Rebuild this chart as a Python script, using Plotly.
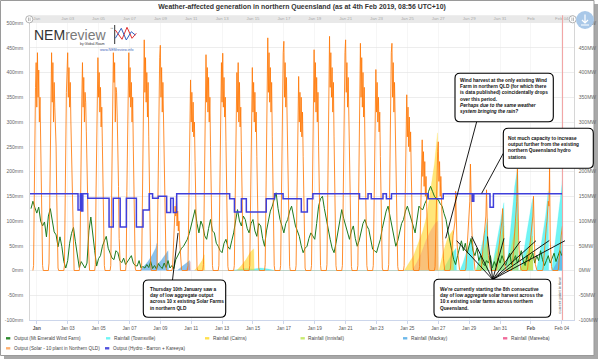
import pandas as pd
import plotly.graph_objects as go

BASE = pd.Timestamp("2019-01-01")

TITLE = "Weather-affected generation in northern Queensland (as at 4th Feb 2019, 08:56 UTC+10)"

# ---------------- axes ----------------
X_RANGE_DAYS = [-0.44, 34.79]
X_TICK_DAYS = list(range(0, 35, 2))
X_TICK_TEXT = ["<b>Jan</b>", "Jan 03", "Jan 05", "Jan 07", "Jan 09", "Jan 11", "Jan 13",
               "Jan 15", "Jan 17", "Jan 19", "Jan 21", "Jan 23", "Jan 25", "Jan 27",
               "Jan 29", "Jan 31", "<b>Feb</b>", "Feb 04"]
TOP_TICK_TEXT = ["Jan", "Jan 03", "Jan 05", "Jan 07", "Jan 09", "Jan 11", "Jan 13",
                 "Jan 15", "Jan 17", "Jan 19", "Jan 21", "Jan 23", "Jan 25", "Jan 27",
                 "Jan 29", "Jan 31", "Feb", "Feb 04"]
Y_TICKS = [-100, -50, 0, 50, 100, 150, 200, 250, 300, 350, 400, 450, 500]
Y_RANGE = [-100, 500]
RIGHT_HIDDEN_TICKS = [250]   # covered by the hydro note box in the original
NOW_DAY = 34.05

# ---------------- solar (MW), hourly samples around each day ----------------
SOLAR_HOURS = [-6, -5, -4, -3, -2, -1, 0, 1, 2, 3, 4, 5, 6, 7, 8, 9, 10]
SOLAR_MW = [
    [0, 10, 140, 300, 370, 420, 330, 440, 350, 405, 300, 350, 260, 170, 60, 10, 0],   # Jan 1
    [0, 15, 160, 310, 390, 440, 340, 420, 300, 380, 330, 290, 250, 150, 50, 5, 0],
    [0, 10, 150, 300, 360, 400, 440, 350, 410, 330, 380, 300, 240, 160, 60, 10, 0],
    [0, 10, 130, 290, 350, 420, 330, 390, 300, 360, 340, 280, 230, 150, 55, 5, 0],
    [0, 12, 150, 300, 380, 430, 350, 400, 320, 370, 290, 330, 250, 160, 60, 10, 0],
    [0, 10, 140, 280, 360, 440, 380, 420, 300, 370, 360, 310, 260, 170, 65, 10, 0],
    [0, 15, 160, 310, 380, 440, 350, 410, 330, 380, 300, 350, 250, 160, 55, 5, 0],
    [0, 10, 150, 300, 390, 466, 360, 430, 340, 400, 310, 380, 270, 170, 60, 10, 0],
    [0, 10, 140, 290, 370, 430, 455, 350, 410, 320, 380, 300, 240, 150, 50, 5, 0],
    [0, 5, 40, 70, 100, 130, 110, 150, 90, 120, 80, 100, 60, 30, 10, 2, 0],            # Jan 10
    [0, 10, 120, 260, 330, 385, 300, 360, 280, 340, 270, 300, 220, 140, 50, 5, 0],
    [0, 12, 150, 300, 370, 436, 340, 410, 320, 390, 300, 350, 250, 160, 60, 10, 0],
    [0, 10, 140, 290, 380, 420, 340, 439, 330, 390, 310, 350, 260, 160, 55, 8, 0],
    [0, 10, 130, 280, 350, 400, 320, 420, 300, 380, 290, 330, 240, 150, 50, 5, 0],
    [0, 10, 130, 270, 340, 410, 320, 380, 300, 360, 280, 320, 230, 150, 55, 5, 0],
    [0, 12, 160, 310, 400, 470, 360, 440, 340, 410, 320, 380, 270, 170, 60, 10, 0],
    [0, 10, 150, 300, 380, 440, 463, 350, 420, 330, 390, 310, 260, 160, 55, 8, 0],
    [0, 10, 120, 270, 330, 392, 300, 360, 280, 350, 270, 320, 230, 140, 50, 5, 0],
    [0, 10, 150, 300, 370, 446, 340, 420, 320, 390, 300, 360, 250, 160, 60, 10, 0],
    [0, 12, 160, 320, 400, 473, 370, 440, 350, 410, 320, 380, 270, 170, 60, 10, 0],    # Jan 20
    [0, 10, 150, 300, 390, 440, 466, 360, 420, 330, 390, 300, 260, 160, 55, 8, 0],
    [0, 10, 150, 310, 380, 459, 350, 430, 330, 400, 310, 370, 260, 165, 60, 10, 0],
    [0, 10, 130, 280, 350, 406, 320, 380, 300, 350, 280, 320, 230, 150, 50, 5, 0],
    [0, 12, 150, 300, 380, 440, 459, 350, 420, 320, 380, 300, 250, 160, 55, 8, 0],
    [0, 10, 110, 240, 300, 355, 270, 330, 250, 310, 240, 280, 200, 130, 45, 5, 0],
    [0, 8, 80, 160, 220, 264, 190, 240, 170, 220, 150, 190, 130, 80, 30, 5, 0],
    [0, 8, 70, 150, 200, 240, 260, 180, 220, 150, 190, 120, 90, 60, 25, 5, 0],
    [0, 5, 25, 45, 60, 70, 80, 90, 100, 160, 80, 60, 40, 20, 8, 2, 0],
    [0, 5, 30, 50, 70, 90, 110, 140, 215, 120, 90, 60, 40, 20, 8, 2, 0],
    [0, 5, 25, 40, 55, 70, 80, 100, 110, 163, 80, 50, 30, 15, 5, 2, 0],               # Jan 30
    [0, 5, 20, 35, 50, 60, 70, 80, 90, 100, 125, 60, 30, 12, 5, 2, 0],
    [0, 5, 25, 45, 60, 80, 100, 120, 140, 205, 100, 60, 35, 15, 5, 2, 0],             # Feb 1
    [0, 5, 20, 35, 50, 60, 70, 90, 100, 110, 150, 60, 30, 12, 5, 2, 0],
    [0, 5, 25, 40, 55, 70, 90, 100, 120, 140, 130, 208, 60, 20, 8, 2, 0],
    [0, 5, 25, 45, 60, 70, 80, 90],                                                    # Feb 4 (partial)
]

# ---------------- wind (MW), 3-hourly from Dec 31 15:00 ----------------
WIND_START_DAY = -0.375
WIND_STEP_HOURS = 3
WIND_MW = [
    125, 140, 127,
    116, 128, 100, 90, 98, 68, 110, 125,
    98, 78, 72, 48, 68, 48, 18, 5,
    20, 55, 75, 87, 58, 30, 6, 18,
    10, 5, 15, 80, 108, 70, 40, 9,
    24, 30, 49, 60, 69, 45, 36, 25,
    22, 40, 36, 20, 16, 25, 12, 18,
    22, 30, 15, 10, 9, 20, 5, 8,
    5, 12, 6, 18, 4, 10, 3, 14,
    8, 4, 15, 6, 20, 5, 10, 4,
    22, 30, 36, 45, 49, 55, 63, 75,
    90, 110, 123, 95, 76, 100, 90, 70,
    63, 85, 103, 80, 76, 55, 49, 40,
    36, 55, 63, 48, 43, 60, 76, 100,
    123, 100, 90, 110, 103, 85, 76, 95,
    103, 80, 69, 95, 90, 65, 49, 80,
    103, 120, 130, 145, 157, 125, 103, 90,
    76, 95, 103, 120, 130, 110, 90, 80,
    69, 50, 36, 45, 49, 65, 76, 70,
    63, 95, 130, 145, 150, 125, 103, 80,
    63, 45, 36, 55, 76, 100, 123, 105,
    90, 75, 63, 80, 90, 65, 49, 60,
    76, 95, 103, 90, 83, 60, 43, 40,
    36, 50, 63, 85, 103, 120, 130, 110,
    90, 65, 49, 60, 76, 95, 103, 120,
    130, 115, 103, 90, 76, 105, 130, 125,
    123, 135, 143, 160, 170, 160, 150, 145,
    143, 135, 130, 115, 103, 80, 63, 40,
    22, 12, 30, 45, 60, 40, 55, 35,
    50, 65, 40, 30, 45, 20, 30, 15,
    10, 20, 15, 30, 5, 18, 8, 25,
    15, 30, 20, 10, 25, 35, 12, 20,
    30, 15, 25, 40, 20, 10, 30, 18,
    25, 35, 15, 30, 20, 40, 22, 10,
    20, 30, 15, 25, 35, 18, 28, 40,
    30,
]

# ---------------- hydro (MW), step changes ----------------
HYDRO_DAYS = [-0.44, 2.67, 2.82, 2.88, 2.98, 3.30, 4.68, 4.95, 5.40, 5.80, 6.45, 6.88, 7.28,
              7.50, 7.87, 8.41, 8.67, 8.84, 9.06, 12.49, 12.80, 13.25, 13.57, 14.86, 15.40,
              15.95, 17.13, 17.52, 17.88, 20.90, 21.45, 21.66, 22.42, 22.64, 22.97, 25.35,
              26.32, 28.20, 28.30, 29.35, 29.57, 34.05]
HYDRO_MW = [155, 122, 155, 120, 155, 146, 88, 146, 88, 146, 88, 122, 155,
            146, 150, 117, 146, 117, 155, 145, 118, 145, 118, 145, 155,
            145, 118, 145, 155, 145, 155, 145, 155, 145, 155, 145,
            155, 140, 155, 128, 155, 155]

# ---------------- rainfall (mm) ----------------
TOWNSVILLE_DAYS = [12.6, 13.0, 13.5, 14.0, 14.5, 15.0, 15.4,
                   26.30, 26.5, 26.7, 26.9, 27.15, 27.18,
                   27.40, 27.6, 27.8, 28.0, 28.25, 28.28,
                   28.45, 28.6, 28.8, 29.0, 29.2, 29.23,
                   29.45, 29.6, 29.8, 30.0, 30.25, 30.28,
                   30.40, 30.55, 30.75, 30.95, 31.15, 31.18,
                   31.30, 31.5, 31.7, 31.9, 32.1, 32.13,
                   32.35, 32.55, 32.75, 32.95, 33.12, 33.15,
                   33.35, 33.5, 33.7, 33.9, 34.05]
TOWNSVILLE_MM = [0, 2, 4, 3, 5, 3, 0,
                 0, 12, 25, 35, 45, 0,
                 0, 15, 35, 50, 69, 0,
                 0, 20, 50, 80, 105, 0,
                 0, 25, 60, 100, 137, 0,
                 0, 40, 100, 170, 210, 0,
                 0, 30, 70, 110, 145, 0,
                 0, 30, 70, 110, 160, 0,
                 0, 40, 90, 140, 184]

CAIRNS_DAYS = [10.2, 10.45, 10.7, 10.85, 10.88,
               12.95, 13.25, 13.55, 13.85, 14.05, 14.08,
               23.8, 24.1, 24.4, 24.7, 25.0, 25.25, 25.5, 25.75, 25.95, 26.0,
               26.05, 26.3, 26.6, 26.95, 27.0,
               31.3, 31.6, 31.9, 32.1, 32.13]
CAIRNS_MM = [0, 8, 20, 32, 0,
             0, 10, 22, 38, 44, 0,
             0, 15, 30, 55, 80, 110, 160, 215, 278, 0,
             0, 35, 65, 82, 0,
             0, 20, 45, 55, 0]

INNISFAIL_DAYS = [28.45, 28.7, 29.0, 29.2, 29.23,
                  29.45, 29.7, 30.0, 30.25, 30.28,
                  30.40, 30.65, 30.9, 31.15, 31.18,
                  31.30, 31.6, 31.9, 32.1, 32.13]
INNISFAIL_MM = [0, 20, 45, 65, 0,
                0, 30, 60, 90, 0,
                0, 35, 75, 115, 0,
                0, 25, 50, 70, 0]

MACKAY_DAYS = [6.70, 6.95, 7.2, 7.45, 7.7, 7.78, 7.8, 8.05, 8.3, 8.5, 8.53,
               9.1, 9.4, 9.7, 9.9, 9.93,
               33.40, 33.6, 33.85, 34.05]
MACKAY_MM = [0, 8, 18, 30, 45, 55, 12, 20, 32, 40, 0,
             0, 8, 15, 20, 0,
             0, 12, 28, 45]

MAREEBA_DAYS = [9.6, 9.8, 9.95, 9.98,
                24.3, 24.6, 24.9, 25.2, 25.5, 25.8, 25.97, 26.0]
MAREEBA_MM = [0, 8, 18, 0,
              0, 15, 35, 60, 80, 95, 100, 0]

# ---------------- styling ----------------
C_WIND = "#1E7A1E"
C_SOLAR = "#FF7A0A"
C_HYDRO = "#3F3FDB"
RAIN_STYLE = {
    "Rainfall (Townsville)": ("rgba(64,240,240,0.75)", "#6FF5F5"),
    "Rainfall (Cairns)": ("rgba(255,215,40,0.62)", "#FFE04D"),
    "Rainfall (Innisfail)": ("rgba(190,230,80,0.6)", "#C8EA70"),
    "Rainfall (Mackay)": ("rgba(90,170,230,0.7)", "#6CB8EA"),
    "Rainfall (Mareeba)": ("rgba(235,110,120,0.3)", "#F06A9A"),
}
FONT = "Liberation Sans, Arial, sans-serif"

PL, PR, PT, PB = 30, 574, 23, 320  # plot area in pixels


def fx(px):
    return (px - PL) / (PR - PL)


def fy(py):
    return (PB - py) / (PB - PT)


def t(d):
    return BASE + pd.Timedelta(days=float(d))


# ---------------- build series ----------------
solar_x, solar_y = [], []
for i, row in enumerate(SOLAR_MW):
    for h, v in zip(SOLAR_HOURS, row):
        solar_x.append(t(i + h / 24.0))
        solar_y.append(v)

wind_x = [t(WIND_START_DAY + k * WIND_STEP_HOURS / 24.0) for k in range(len(WIND_MW))]

fig = go.Figure()

rain_sets = [
    ("Rainfall (Townsville)", TOWNSVILLE_DAYS, TOWNSVILLE_MM),
    ("Rainfall (Cairns)", CAIRNS_DAYS, CAIRNS_MM),
    ("Rainfall (Innisfail)", INNISFAIL_DAYS, INNISFAIL_MM),
    ("Rainfall (Mackay)", MACKAY_DAYS, MACKAY_MM),
    ("Rainfall (Mareeba)", MAREEBA_DAYS, MAREEBA_MM),
]
for name, days, mm in rain_sets:
    fillc, _ = RAIN_STYLE[name]
    fig.add_trace(go.Scatter(x=[t(d) for d in days], y=mm, name=name, mode="lines",
                             line=dict(width=0.3, color=fillc), fill="tozeroy",
                             fillcolor=fillc, yaxis="y", showlegend=False))

fig.add_trace(go.Scatter(x=wind_x, y=WIND_MW, name="Output (Mt Emerald Wind Farm)",
                         mode="lines", line=dict(color=C_WIND, width=1), yaxis="y2",
                         showlegend=False))
fig.add_trace(go.Scatter(x=solar_x, y=solar_y, name="Output (Solar - 10 plant in Northern QLD)",
                         mode="lines", line=dict(color=C_SOLAR, width=0.85), yaxis="y2",
                         showlegend=False))
fig.add_trace(go.Scatter(x=[t(d) for d in HYDRO_DAYS], y=HYDRO_MW,
                         name="Output (Hydro - Barron + Kareeya)", mode="lines",
                         line=dict(color=C_HYDRO, width=1.5, shape="hv"), yaxis="y2",
                         showlegend=False))
# carrier for the top (navigator-like) axis
fig.add_trace(go.Scatter(x=[t(0)], y=[None], xaxis="x2", yaxis="y", showlegend=False,
                         hoverinfo="skip"))

# ---------------- shapes ----------------
shapes = []
# frame with shadow
shapes.append(dict(type="rect", xref="paper", yref="paper", x0=fx(4), x1=fx(598), y0=fy(359),
                   y1=fy(4), fillcolor="#A8A8A8", line=dict(width=0), layer="below"))
shapes.append(dict(type="rect", xref="paper", yref="paper", x0=fx(0.5), x1=fx(594), y0=fy(355.5),
                   y1=fy(0.5), fillcolor="white", line=dict(color="#9A9A9A", width=1),
                   layer="below"))
# top band
shapes.append(dict(type="rect", xref="paper", yref="paper", x0=0, x1=1, y0=1, y1=fy(15.3),
                   fillcolor="#E9E9E9", line=dict(width=0), layer="below"))

# current time line
shapes.append(dict(type="line", xref="x", yref="paper", x0=t(NOW_DAY), x1=t(NOW_DAY),
                   y0=0, y1=fy(15.3), line=dict(color="#F2A0A0", width=1), layer="above"))

# arrows of annotations
ARROWS = [
    ((172.5, 280), (178, 233)),
    ((476.7, 121.7), (445.7, 238.3)),
    ((503.3, 153.3), (481.7, 193.3)),
]
FAN_FROM = (492.7, 279.5)
FAN_TO = [(456.7, 240.7), (471.7, 236.5), (487.5, 236.5), (504, 238.3),
          (520.5, 241), (536, 240.7), (549.3, 240.5), (565, 240.7)]
for a, b in ARROWS:
    shapes.append(dict(type="line", xref="paper", yref="paper", x0=fx(a[0]), y0=fy(a[1]),
                       x1=fx(b[0]), y1=fy(b[1]), line=dict(color="black", width=0.9),
                       layer="above"))
for b in FAN_TO:
    shapes.append(dict(type="line", xref="paper", yref="paper", x0=fx(FAN_FROM[0]),
                       y0=fy(FAN_FROM[1]), x1=fx(b[0]), y1=fy(b[1]),
                       line=dict(color="black", width=0.9), layer="above"))


def rrect(x0, y0, x1, y1, r=5):
    rx, ry = r / (PR - PL), r / (PB - PT)
    X0, X1, YT, YB = fx(x0), fx(x1), fy(y0), fy(y1)
    return (f"M{X0+rx},{YT} L{X1-rx},{YT} Q{X1},{YT} {X1},{YT-ry} L{X1},{YB+ry} "
            f"Q{X1},{YB} {X1-rx},{YB} L{X0+rx},{YB} Q{X0},{YB} {X0},{YB+ry} "
            f"L{X0},{YT-ry} Q{X0},{YT} {X0+rx},{YT} Z")


BOXES = [
    ((143.3, 280, 225.7, 317.3), (148.3, 299.4),
     "<b>Thursday 10th January saw a<br>day of low aggregate output<br>"
     "across 10 x existing Solar Farms<br>in northern QLD</b>"),
    ((455, 73.3, 553.3, 121.7), (457.6, 95.6),
     "<b>Wind harvest at the only existing Wind<br>Farm in northern QLD (for which there<br>"
     "is data published) coincidentally drops<br>over this period.<br>"
     "<i>Perhaps due to the same weather</i><br><i>system bringing the rain?</i></b>"),
    ((503.3, 128.3, 593.3, 168.3), (506.3, 147.5),
     "<b>Not much capacity to increase<br>output further from the existing<br>"
     "northern Queensland hydro<br>stations</b>"),
    ((434, 279.3, 550.7, 317.3), (438.3, 298.8),
     "<b>We're currently starting the 8th consecutive<br>day of low <i>aggregate</i> solar "
     "harvest across the<br>10 x existing solar farms across northern<br>Queensland.</b>"),
]
for (x0, y0, x1, y1), _, _ in BOXES:
    shapes.append(dict(type="path", xref="paper", yref="paper", path=rrect(x0, y0, x1, y1),
                       fillcolor="white", line=dict(color="black", width=1.1), layer="above"))

# logo icon
shapes.append(dict(type="line", xref="paper", yref="paper", x0=fx(114.7), x1=fx(114.7),
                   y0=fy(25), y1=fy(44), line=dict(color="#333", width=1), layer="above"))
LOGO_BLUE = [(115.3, 38.3), (121.3, 28.3), (126.3, 40), (131.3, 31.7), (135.3, 35)]
LOGO_RED = [(115.3, 30), (122, 39.3), (127, 27.3), (132, 38.3), (136.3, 33.3)]
for pts, col in ((LOGO_RED, "#E03030"), (LOGO_BLUE, "#3060C0")):
    p = "M" + " L".join(f"{fx(a)},{fy(b)}" for a, b in pts)
    shapes.append(dict(type="path", xref="paper", yref="paper", path=p,
                       line=dict(color=col, width=1), layer="above"))

# navigator handles
for hx in (29.3, 572.7):
    shapes.append(dict(type="circle", xref="paper", yref="paper", x0=fx(hx - 3.6),
                       x1=fx(hx + 3.6), y0=fy(19.3 + 3.6), y1=fy(19.3 - 3.6),
                       fillcolor="white", line=dict(color="#A0A0A0", width=0.8), layer="above"))
    for dx in (-0.8, 0.8):
        shapes.append(dict(type="line", xref="paper", yref="paper", x0=fx(hx + dx),
                           x1=fx(hx + dx), y0=fy(17.5), y1=fy(21.1),
                           line=dict(color="#888", width=0.6), layer="above"))

# download button
shapes.append(dict(type="circle", xref="paper", yref="paper", x0=fx(576), x1=fx(594),
                   y0=fy(29), y1=fy(11), fillcolor="#A9C8E8", line=dict(width=0),
                   layer="above"))
shapes.append(dict(type="path", xref="paper", yref="paper",
                   path=f"M{fx(585)},{fy(14.5)} L{fx(585)},{fy(23)} M{fx(582)},{fy(20)} "
                        f"L{fx(585)},{fy(23)} L{fx(588)},{fy(20)} M{fx(581)},{fy(25)} L{fx(589)},{fy(25)}",
                   line=dict(color="white", width=1.2), layer="above"))

# legend swatches
LEGEND = [
    ("Output (Mt Emerald Wind Farm)", "#2E8B2E", 6, 338.3),
    ("Rainfall (Townsville)", RAIN_STYLE["Rainfall (Townsville)"][1], 106, 338.3),
    ("Rainfall (Cairns)", RAIN_STYLE["Rainfall (Cairns)"][1], 205, 338.3),
    ("Rainfall (Innisfail)", RAIN_STYLE["Rainfall (Innisfail)"][1], 300.5, 338.3),
    ("Rainfall (Mackay)", RAIN_STYLE["Rainfall (Mackay)"][1], 403, 338.3),
    ("Rainfall (Mareeba)", RAIN_STYLE["Rainfall (Mareeba)"][1], 503, 338.3),
    ("Output (Solar - 10 plant in Northern QLD)", "#FFB070", 6, 348.3),
    ("Output (Hydro - Barron + Kareeya)", "#5050DD", 105, 348.3),
]
for name, col, sx, sy in LEGEND:
    shapes.append(dict(type="rect", xref="paper", yref="paper", x0=fx(sx), x1=fx(sx + 4.3),
                       y0=fy(sy + 1.2), y1=fy(sy - 1.2), fillcolor=col, line=dict(width=0),
                       layer="above"))

# ---------------- annotations ----------------
ann = []
for _, (tx, ty), text in BOXES:
    ann.append(dict(xref="paper", yref="paper", x=fx(tx), y=fy(ty), xanchor="left",
                    yanchor="middle", align="left", showarrow=False, text=text,
                    font=dict(family=FONT, size=4.75, color="#111")))
for name, col, sx, sy in LEGEND:
    ann.append(dict(xref="paper", yref="paper", x=fx(sx + 5.5), y=fy(sy), xanchor="left",
                    yanchor="middle", showarrow=False, text=name,
                    font=dict(family=FONT, size=4.7, color="#444")))
# logo text
ann.append(dict(xref="paper", yref="paper", x=fx(32), y=fy(34.8), xanchor="left", yanchor="middle",
                showarrow=False,
                text="<span style='color:#333'>NEM</span><span style='color:#7a7a7a'>review</span>",
                font=dict(family=FONT, size=14)))
ann.append(dict(xref="paper", yref="paper", x=fx(108), y=fy(29.5), xanchor="left", yanchor="middle",
                showarrow=False, text="™", font=dict(family=FONT, size=3.5, color="#777")))
ann.append(dict(xref="paper", yref="paper", x=fx(106.5), y=fy(44.3), xanchor="right",
                yanchor="middle", showarrow=False, text="by Global-Roam",
                font=dict(family=FONT, size=3.4, color="#333")))
ann.append(dict(xref="paper", yref="paper", x=fx(116.5), y=fy(50.3), xanchor="center",
                yanchor="middle", showarrow=False, text="www.NEMreview.info",
                font=dict(family=FONT, size=3.6, color="#4466BB")))
# current point in time label
ann.append(dict(xref="paper", yref="paper", x=fx(558.7), y=fy(295), xanchor="center",
                yanchor="middle", showarrow=False, text="current point in time", textangle=-90,
                font=dict(family=FONT, size=4.2, color="#666")))

fig.update_layout(
    width=604, height=361,
    margin=dict(l=PL, r=604 - PR, t=PT, b=361 - PB, pad=0, autoexpand=False),
    paper_bgcolor="white", plot_bgcolor="rgba(0,0,0,0)",
    showlegend=False,
    font=dict(family=FONT, size=5, color="#666"),
    title=dict(text=f"<b>{TITLE}</b>", x=0.5, xanchor="center", y=1 - 6.5 / 361,
               yanchor="middle", font=dict(family=FONT, size=6.9, color="#333")),
    xaxis=dict(type="date", range=[t(X_RANGE_DAYS[0]), t(X_RANGE_DAYS[1])],
               tickvals=[t(d) for d in X_TICK_DAYS], ticktext=X_TICK_TEXT,
               tickfont=dict(family=FONT, size=4.7, color="#555"),
               ticks="outside", ticklen=3, tickcolor="#CCD6EB", showgrid=True,
               gridcolor="#F0F0F0", gridwidth=0.6, showline=True, linecolor="#CCD6EB",
               zeroline=False, fixedrange=True, automargin=False),
    xaxis2=dict(type="date", overlaying="x", side="top", matches="x",
                range=[t(X_RANGE_DAYS[0]), t(X_RANGE_DAYS[1])],
                tickvals=[t(d) for d in X_TICK_DAYS], ticktext=TOP_TICK_TEXT,
                tickfont=dict(family=FONT, size=4.3, color="#AAAAAA"), ticks="",
                ticklabelstandoff=1, showgrid=False, showline=False, zeroline=False,
                automargin=False),
    yaxis=dict(range=Y_RANGE, tickvals=Y_TICKS, ticktext=[f"{v}mm" for v in Y_TICKS],
               tickfont=dict(family=FONT, size=5, color="#666"), ticks="",
               ticklabelstandoff=5, showgrid=True, gridcolor="#E6E6E6", gridwidth=0.7,
               zeroline=False, showline=True, linecolor="#CCCCCC", linewidth=0.8,
               automargin=False, fixedrange=True),
    yaxis2=dict(range=Y_RANGE, overlaying="y", side="right", tickvals=Y_TICKS,
                ticktext=["" if v in RIGHT_HIDDEN_TICKS else f"{v}MW" for v in Y_TICKS],
                tickfont=dict(family=FONT, size=5, color="#666"), ticks="",
                ticklabelstandoff=3, showgrid=False, zeroline=False, showline=True,
                linecolor="#CCCCCC", linewidth=0.8, automargin=False, fixedrange=True),
    hovermode=False,
    shapes=shapes,
    annotations=ann,
)

fig.write_html("out.html",
               config={"displayModeBar": False, "staticPlot": True},
               post_script="document.body.style.margin='0px';"
                           "document.body.style.overflow='hidden';")
